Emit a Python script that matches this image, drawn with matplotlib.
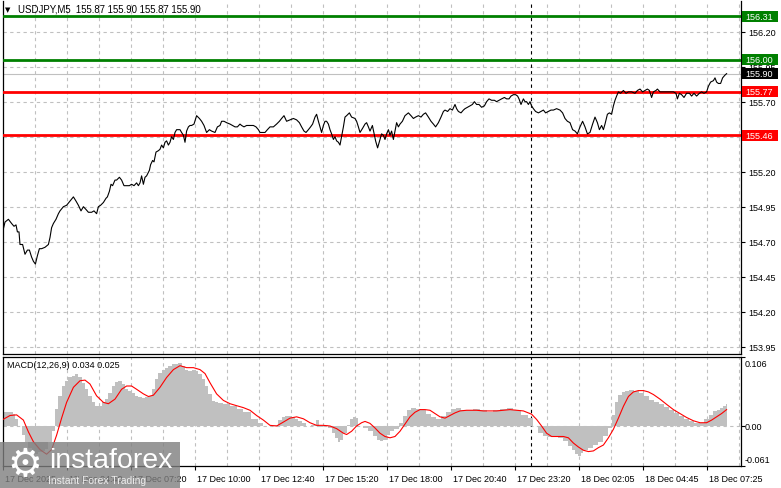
import matplotlib
matplotlib.use('Agg')
import matplotlib.pyplot as plt
from matplotlib.patches import Rectangle
from matplotlib.transforms import blended_transform_factory, ScaledTranslation

plt.rcParams['font.family'] = ['Liberation Sans', 'DejaVu Sans']
plt.rcParams['font.size'] = 6.5

# --- data (x = M5 bar number counted from 17 Dec 02:00) ---
symbol = 'USDJPY,M5'
last_ohlc = [155.87, 155.90, 155.87, 155.90]

price_bar = [0, 1, 2.7, 4.3, 5.5, 6.5, 7.2, 8, 8.5, 9.8, 11, 12.2, 13.2, 14.3, 15.2, 16.2, 17.2, 18.2, 19.3, 21,
             22.7, 23.5, 24.3, 25.2, 26.5, 27.7, 28.5, 30.2, 31.8, 33.5, 35.2, 36.5, 37.7, 39, 40.2, 41.5, 42.7, 44.3,
             45.5, 46.8, 47.7, 48.8, 50.2, 51.5, 52.2, 53.2, 54, 54.8, 56, 56.8, 58.2, 59.3, 60.5, 61.5, 63.2, 64.3,
             65.5, 66.8, 67.7, 68.5, 69.3, 70.2, 71, 71.8, 73.2, 73.8, 74.8, 75.5, 76.5, 77.7, 78.5, 79.3, 80.2, 81,
             81.8, 82.7, 83.5, 84.3, 85.2, 86, 86.8, 88.5, 89.3, 90.2, 91, 91.8, 92.7, 93.5,
             94.3, 95.5, 96.8, 98.2, 99.3, 100.5, 101.8, 103.2, 104.3, 106, 107.2, 108.5, 109.3, 110.5, 111.8, 113.5,
             114.8, 116, 117.2, 118.5, 119.3, 120.5, 121.8, 123.5, 125.2, 126.5, 127.7, 128.5, 129.8, 131, 132.2,
             133.5, 135.2, 136.8, 138.2, 139.3, 140.5, 141.8, 143.5, 145.2, 146.8, 148.2, 149.3, 150.5, 151.5, 152.7,
             153.8, 154.8, 156, 156.8, 157.7, 158.5, 159.3, 160.2, 161, 161.8, 162.7, 163.5, 164.3, 165.2, 166,
             166.8, 167.7, 168.5, 169.3, 170.2, 171, 171.8, 173.2, 174.3, 176, 176.8, 177.7, 178.5, 179.8, 181,
             181.8, 182.7, 183.5,
             184.7, 185.7, 186.3, 187.3, 188.5, 189.3, 190.2, 191, 191.8, 192.7, 193.5, 194.3, 195.2, 196, 196.8,
             197.7, 198.5, 199.7, 201, 202.7, 204, 205.2, 206.3, 207.7, 209, 210.2, 211.3, 212.7, 214, 215.2, 216.3,
             217.7, 219, 220.2, 221, 222.3, 223.5, 224.7, 226, 226.8, 227.7, 229, 230.2, 231, 232.3, 233.5, 234.7,
             235.7, 236.8, 238, 239.3, 240.7, 241.8, 243, 244.3, 245.7, 246.8, 248, 249.3, 250.7, 251.8, 253, 254,
             255.2, 256.3, 257.3, 258, 259, 260.2, 261, 261.8, 262.7, 263.5, 264.3, 265.2, 266.3, 267.7, 269, 270.2,
             271.3, 272.7,
             274, 275.2, 276.8, 278.5, 279.8, 281, 282.2, 283.5, 284.8, 286, 287.2, 288.5, 289.8, 291, 292.2, 293.5,
             294.8, 296, 297.2, 298.2, 299.3, 300.2, 301, 302.2, 303.2, 304.3, 305.2, 306, 306.8, 307.7, 308.8,
             310.2, 311.5, 312.7, 314.3, 316, 317.2, 318.5, 319.8, 321, 322.2, 323.2, 324.3, 325.2, 326.5, 327.2,
             328.5, 330.2, 331.8, 333.5, 335.2, 336.5, 337.2, 338.2, 339.3, 340.5, 341.8, 343.2, 344.3, 345.5,
             346.8, 348.2, 349.3, 350.5, 351.8, 352.7, 353.8, 355.2, 356, 356.8, 357.7, 358.8, 359.8, 361, 361.8]
price = [154.78, 154.84, 154.86, 154.83, 154.81, 154.82, 154.77, 154.77, 154.68, 154.68, 154.61, 154.64, 154.64,
         154.59, 154.56, 154.54, 154.60, 154.65, 154.65, 154.66, 154.68, 154.73, 154.80, 154.83, 154.86, 154.90,
         154.92, 154.95, 154.96, 154.99, 155.02, 154.99, 154.96, 154.92, 154.95, 154.93, 154.91, 154.91, 154.92,
         154.90, 154.95, 154.96, 154.98, 155.01, 155.02, 155.06, 155.11, 155.10, 155.14, 155.14, 155.16, 155.14,
         155.10, 155.10, 155.10, 155.11, 155.10, 155.12, 155.10, 155.12, 155.17, 155.11, 155.16, 155.17, 155.21,
         155.25, 155.28, 155.27, 155.34, 155.35, 155.36, 155.39, 155.37, 155.41, 155.42, 155.39, 155.41, 155.45,
         155.43, 155.48, 155.50, 155.50, 155.48, 155.46, 155.41, 155.49, 155.52, 155.53,
         155.53, 155.54, 155.60, 155.58, 155.56, 155.53, 155.48, 155.50, 155.49, 155.48, 155.52, 155.53, 155.56,
         155.56, 155.55, 155.54, 155.53, 155.52, 155.52, 155.54, 155.53, 155.52, 155.53, 155.53, 155.53, 155.52,
         155.50, 155.48, 155.48, 155.48, 155.50, 155.52, 155.52, 155.54, 155.56, 155.58, 155.60, 155.56, 155.57,
         155.58, 155.57, 155.55, 155.52, 155.49, 155.48, 155.50, 155.52, 155.54, 155.59, 155.61, 155.56, 155.52,
         155.48, 155.53, 155.56, 155.56, 155.54, 155.50, 155.47, 155.43, 155.45, 155.42, 155.41, 155.39, 155.45,
         155.52, 155.59, 155.60, 155.62, 155.59, 155.58, 155.56, 155.52, 155.48, 155.51, 155.54, 155.55, 155.52,
         155.49,
         155.53, 155.46, 155.42, 155.37, 155.43, 155.47, 155.46, 155.43, 155.47, 155.50, 155.46, 155.49, 155.43,
         155.49, 155.55, 155.52, 155.54, 155.56, 155.60, 155.62, 155.60, 155.58, 155.59, 155.60, 155.59, 155.61,
         155.62, 155.59, 155.56, 155.54, 155.52, 155.55, 155.59, 155.63, 155.64, 155.63, 155.65, 155.64, 155.68,
         155.65, 155.63, 155.62, 155.64, 155.65, 155.66, 155.67, 155.68, 155.70, 155.68, 155.68, 155.66, 155.67,
         155.70, 155.72, 155.71, 155.71, 155.70, 155.71, 155.72, 155.73, 155.72, 155.72, 155.74, 155.75, 155.75,
         155.74, 155.72, 155.68, 155.72, 155.70, 155.70, 155.68, 155.70, 155.67, 155.65, 155.63, 155.62, 155.63,
         155.64, 155.62, 155.63,
         155.64, 155.64, 155.65, 155.64, 155.62, 155.58, 155.56, 155.55, 155.50, 155.49, 155.47, 155.52, 155.56,
         155.52, 155.47, 155.48, 155.54, 155.59, 155.55, 155.50, 155.53, 155.50, 155.54, 155.61, 155.62, 155.61,
         155.67, 155.71, 155.74, 155.77, 155.76, 155.78, 155.76, 155.77, 155.77, 155.76, 155.78, 155.79, 155.77,
         155.78, 155.79, 155.78, 155.73, 155.77, 155.78, 155.79, 155.77, 155.77, 155.77, 155.77, 155.77, 155.76,
         155.72, 155.76, 155.75, 155.73, 155.76, 155.76, 155.74, 155.76, 155.74, 155.76, 155.77, 155.76, 155.77,
         155.81, 155.84, 155.85, 155.87, 155.84, 155.83, 155.83, 155.87, 155.89, 155.90]

hist_bar = [0, 1, 4.3, 5.2, 6.8, 8.5, 10.2, 11.8, 13.5, 15.2, 16.8, 18.5, 20.2, 21.8, 23.5, 25.2, 26.8, 28.5, 30.2,
            31.8, 33.5, 35.2, 36.8, 38.5, 40.2, 41.8, 43.5, 45.2, 46.8, 48.5, 50.2, 51.8, 53.5, 55.2, 56.8, 58.5,
            60.2, 61.8, 63.5, 65.2, 66.8, 68.5, 70.2, 71.8, 73.5, 75.2, 76.8, 78.5, 80.2, 81.8, 83.5, 85.2, 86.8,
            88.5, 90.2, 91.8, 93.5, 95.2, 96.8, 98.5, 100.2, 101.8, 103.5, 105.2, 106.8, 108.5, 111.8, 115.2, 118.5,
            121.8, 126, 128.5, 131, 133.5, 136, 138.5, 140.2, 141.8, 143.5, 145.2, 146.8, 148.5, 150.2, 152.7, 155.2,
            157.7, 158.5, 161, 163.5, 165.2, 166.8, 167.7, 169.3, 171, 172.7, 174.3, 176, 176.8, 178.5, 181, 183.5,
            186, 187.7, 189.3, 191, 192.7, 194.3, 196.8, 199.3, 201, 202.7, 205.2, 207.7, 210.2, 212.7, 215.2,
            217.7, 220.2, 222.7, 225.2, 227.7, 230.2, 233.5, 236.8, 240.2, 243.5, 246.8, 250.2, 253.5, 256.8, 261,
            263.5, 266, 268.5, 271, 273.5, 276, 278.5, 281, 283.5, 285.2, 286.8, 288.2, 289.3, 291, 293.5, 296,
            298.5, 301, 303.5, 305.2, 306.8, 308.5, 310.2, 311.8, 314.3, 316.8, 319.3, 321.8, 324.3, 326.8, 329.3,
            331.8, 334.3, 336.8, 339.3, 341.8, 344.3, 346.8, 349.3, 351.8, 354.3, 356, 357.7, 359.3, 361, 362.2]
hist = [0.011, 0.022, 0.022, 0.019, 0.011, 0.000, -0.014, -0.024, -0.034, -0.039,
        -0.042, -0.040, -0.038, -0.035, -0.025, -0.008, 0.026, 0.046, 0.061, 0.069,
        0.074, 0.077, 0.079, 0.074, 0.066, 0.056, 0.046, 0.036, 0.031, 0.031,
        0.036, 0.041, 0.051, 0.061, 0.067, 0.069, 0.064, 0.056, 0.054, 0.051,
        0.046, 0.044, 0.042, 0.044, 0.046, 0.056, 0.071, 0.081, 0.086, 0.089,
        0.092, 0.094, 0.095, 0.096, 0.091, 0.085, 0.084, 0.085, 0.084, 0.079,
        0.071, 0.061, 0.049, 0.038, 0.036, 0.035, 0.033, 0.030, 0.026, 0.022,
        0.011, 0.005, 0.000, 0.000, 0.001, 0.009, 0.014, 0.016, 0.016, 0.014,
        0.011, 0.007, 0.004, 0.000, 0.001, 0.009, -0.001, 0.001, -0.003, -0.011,
        -0.018, -0.025, -0.021, -0.011, 0.001, 0.011, 0.014, 0.012, 0.000, -0.003,
        -0.008, -0.016, -0.021, -0.023, -0.021, -0.014, -0.008, -0.004, 0.004, 0.016,
        0.024, 0.027, 0.026, 0.024, 0.019, 0.013, 0.011, 0.016, 0.022, 0.026,
        0.027, 0.024, 0.024, 0.026, 0.024, 0.022, 0.024, 0.026, 0.027, 0.024,
        0.017, 0.012, 0.000, -0.011, -0.016, -0.017, -0.017, -0.018, -0.023, -0.031,
        -0.037, -0.042, -0.046, -0.041, -0.036, -0.034, -0.029, -0.024, -0.016, -0.003,
        0.017, 0.037, 0.047, 0.052, 0.054, 0.055, 0.053, 0.050, 0.045, 0.040,
        0.037, 0.033, 0.029, 0.025, 0.020, 0.015, 0.010, 0.008, 0.005, 0.005,
        0.010, 0.017, 0.023, 0.024, 0.027, 0.030, 0.034]

sig_bar = [0, 3.5, 6.8, 10.2, 12.7, 15.2, 18.5, 21.8, 24.3, 26.8, 29.3, 31.8, 35.2, 38.5, 41, 43.5, 46.8, 50.2,
           52.7, 56, 59.3, 61.8, 64.3, 66.8, 70.2, 72.7, 75.2, 78.5, 81.8, 85.2, 88.5, 91.8, 95.2, 98.5, 101, 103.5,
           106.8, 110.2, 113.5, 116.8, 120.2, 123.5, 126.8, 130.2, 133.5, 136.8, 140.2, 143.5, 146.8, 150.2, 153.5,
           156.8, 160.2, 163.5, 166.8, 170.2, 171.8, 174.3, 176.8, 179.3, 181, 183.5, 186, 188.5, 191, 193.5, 196,
           198.5, 201, 203.5, 206, 208.5, 211, 213.5, 216, 218.5, 221, 223.5, 226, 228.5, 231.8, 236.8, 240.2,
           243.5, 246.8, 250.2, 253.5, 256.8, 260.2, 264.3, 266.8, 269.3, 271.8, 274.3, 276.8, 280.2, 282.7, 285.2,
           287.7, 290.2, 292.7, 295.2, 297.7, 300.2, 302.7, 305.2, 307.7, 310.2, 312.7, 315.2, 317.7, 320.2, 322.7,
           325.2, 328.5, 331.8, 335.2, 338.5, 341.8, 345.2, 348.5, 351.8, 354.3, 356.8, 359.3, 361.8]
sig = [0.010, 0.016, 0.017, 0.009, -0.009, -0.024, -0.036, -0.043, -0.036, -0.014,
       0.012, 0.036, 0.059, 0.069, 0.070, 0.064, 0.046, 0.036, 0.034, 0.041,
       0.056, 0.061, 0.061, 0.056, 0.049, 0.045, 0.047, 0.059, 0.074, 0.086,
       0.092, 0.089, 0.089, 0.086, 0.080, 0.066, 0.049, 0.039, 0.034, 0.031,
       0.028, 0.024, 0.016, 0.009, 0.001, 0.000, 0.006, 0.012, 0.014, 0.011,
       0.005, 0.001, 0.001, 0.000, -0.004, -0.011, -0.013, -0.008, 0.000, 0.005,
       0.007, 0.004, -0.003, -0.011, -0.016, -0.018, -0.016, -0.008, 0.003, 0.014,
       0.021, 0.025, 0.025, 0.024, 0.019, 0.014, 0.012, 0.016, 0.020, 0.023,
       0.024, 0.024, 0.023, 0.023, 0.023, 0.024, 0.025, 0.024, 0.023, 0.018,
       0.010, 0.000, -0.011, -0.016, -0.016, -0.016, -0.018, -0.026, -0.032, -0.037,
       -0.039, -0.038, -0.033, -0.029, -0.018, -0.005, 0.012, 0.030, 0.045, 0.052,
       0.054, 0.054, 0.052, 0.048, 0.041, 0.033, 0.025, 0.019, 0.013, 0.008,
       0.005, 0.005, 0.009, 0.014, 0.019, 0.025]
macd_now, signal_now = 0.034, 0.025
macd_max, macd_min = 0.106, -0.061

levels_green = [156.31, 156.00]
levels_red = [155.77, 155.46]
last_price = 155.90
price_ticks = [153.95, 154.20, 154.45, 154.70, 154.95, 155.20, 155.45, 155.70, 155.95, 156.20]

time_ticks = [0, 32, 64, 96, 128, 160, 192, 224, 256, 288, 320, 352]
time_labels = ['17 Dec 2025', '17 Dec 04:40', '17 Dec 07:20', '17 Dec 10:00', '17 Dec 12:40', '17 Dec 15:20',
               '17 Dec 18:00', '17 Dec 20:40', '17 Dec 23:20', '18 Dec 02:05', '18 Dec 04:45', '18 Dec 07:25']
day_sep = 264

# --- layout in pixels ---
W, H = 781, 489
fig = plt.figure(figsize=(W / 100, H / 100), dpi=100)


def fx(px):
    return px / W


def fy(py):
    return 1 - py / H


ax = fig.add_axes([fx(3), fy(354.5), fx(741) - fx(3), fy(2) - fy(354.5)])
ax2 = fig.add_axes([fx(3), fy(467), fx(741) - fx(3), fy(357.5) - fy(467)])

grid_kw = dict(color='#c0c0c0', lw=0.8, ls=(0, (3, 3)), zorder=0)
for a in (ax, ax2):
    a.set_xlim(0, 369)
    for b in range(16, 369, 16):
        a.axvline(b, **grid_kw)
    a.axvline(day_sep, color='black', lw=0.8, ls=(0, (3, 3)), zorder=1)
    for s in a.spines.values():
        s.set_color('black')
        s.set_linewidth(0.9)
ax.spines['top'].set_visible(False)

# price panel
ax.set_ylim(153.9014, 156.419)
for p in price_ticks:
    ax.axhline(p, **grid_kw)
ax.set_xticks([])
ax.yaxis.tick_right()
ax.set_yticks(price_ticks)
# the 155.45 label sits fully behind the 155.46 level box
ax.set_yticklabels(['' if abs(p - levels_red[1]) < 0.02 else f'{p:.2f}' for p in price_ticks])
ax.tick_params(axis='y', length=3, width=0.8, pad=2, labelsize=6.5)

for p in levels_green:
    ax.axhline(p, color='#008000', lw=2, zorder=3)
for p in levels_red:
    ax.axhline(p, color='#ff0000', lw=2, zorder=3)
ax.axhline(last_price, color='#c0c0c0', lw=0.8, zorder=2)
ax.plot(price_bar, price, color='black', lw=0.8, zorder=4)

trans = blended_transform_factory(fig.transFigure, ax.transData)
ylo, yhi = ax.get_ylim()
bh = 11 * (yhi - ylo) / 352.5


def price_box(p, color):
    ax.add_patch(Rectangle((fx(742), p - bh / 2), fx(778) - fx(742), bh, transform=trans,
                           facecolor=color, edgecolor='none', clip_on=False, zorder=10))
    ax.text(fx(745), p, f'{p:.2f}', transform=trans, color='white', va='center', ha='left',
            fontsize=6.5, clip_on=False, zorder=11)


for p in levels_green:
    price_box(p, '#008000')
for p in levels_red:
    price_box(p, '#ff0000')
price_box(last_price, 'black')

fig.text(fx(5), fy(10), '\u25bc', fontsize=5, va='center', ha='left', family=['DejaVu Sans'])
fig.text(fx(18), fy(10), symbol + '  ' + ' '.join(f'{v:.2f}' for v in last_ohlc),
         va='center', ha='left', fontsize=6.9)

# MACD panel
ax2.set_ylim(macd_min, macd_max)
ax2.axhline(0, **grid_kw)
ax2.fill_between(hist_bar, 0, hist, step='mid', color='#c0c0c0', lw=0, zorder=2)
ax2.plot(sig_bar, sig, color='red', lw=0.8, zorder=3)
ax2.yaxis.tick_right()
ax2.set_yticks([macd_min, 0, macd_max])
ax2.set_yticklabels([])
ax2.tick_params(axis='y', length=3, width=0.8)
fig.text(fx(745), fy(365), f'{macd_max:.3f}', va='center', ha='left')
fig.text(fx(745), fy(428), '0.00', va='center', ha='left')
fig.text(fx(745), fy(461), f'{macd_min:.3f}', va='center', ha='left')
fig.text(fx(7), fy(366), f'MACD(12,26,9) {macd_now:.3f} {signal_now:.3f}', va='center', ha='left')

ax2.set_xticks(time_ticks)
ax2.set_xticklabels(time_labels, ha='left')
ax2.tick_params(axis='x', length=3, width=0.8, pad=3, labelsize=6.5)
shift = ScaledTranslation(2 / 100, 0, fig.dpi_scale_trans)
for lbl in ax2.get_xticklabels():
    lbl.set_transform(lbl.get_transform() + shift)

# watermark
fig.add_artist(Rectangle((0, fy(489)), fx(180), fy(443) - fy(489), transform=fig.transFigure,
                         facecolor='#7f7f7f', alpha=0.8, edgecolor='none', zorder=5))
fig.text(fx(25), fy(465), '\u2699', fontsize=28, color='white', ha='center', va='center',
         family=['DejaVu Sans'], zorder=6)
fig.text(fx(49), fy(461), 'instaforex', fontsize=20.5, color='white', ha='left', va='center', zorder=6)
fig.text(fx(48), fy(481), 'Instant Forex Trading', fontsize=7.5, color='#ececec', ha='left', va='center', zorder=6)

fig.savefig('out.png', dpi=100)
